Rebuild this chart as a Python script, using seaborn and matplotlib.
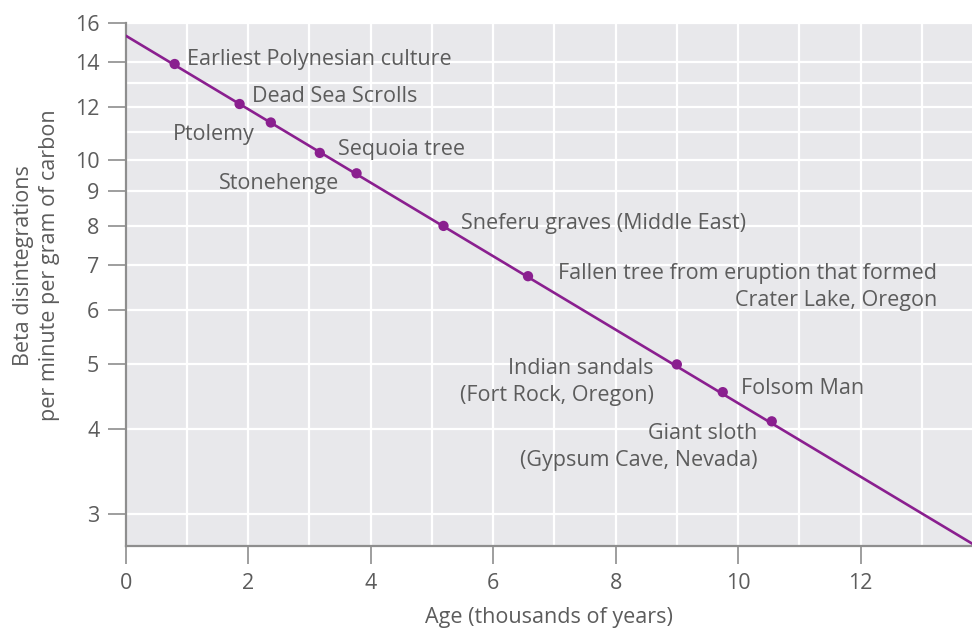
import matplotlib
matplotlib.use("Agg")
import matplotlib.pyplot as plt
from matplotlib.ticker import FixedLocator, FixedFormatter, NullFormatter
import pandas as pd
import seaborn as sns

# Dated samples: age in thousands of years, activity in disintegrations/min/g C
artifacts = [
    "Earliest Polynesian culture",
    "Dead Sea Scrolls",
    "Ptolemy",
    "Sequoia tree",
    "Stonehenge",
    "Sneferu graves (Middle East)",
    "Fallen tree from eruption that formed\nCrater Lake, Oregon",
    "Indian sandals\n(Fort Rock, Oregon)",
    "Folsom Man",
    "Giant sloth\n(Gypsum Cave, Nevada)",
]
ages = [0.80, 1.86, 2.37, 3.17, 3.77, 5.19, 6.57, 9.00, 9.75, 10.55]
rates = [13.89, 12.12, 11.38, 10.26, 9.57, 8.00, 6.74, 4.99, 4.54, 4.11]

# Decay line end points
line_age = [0.0, 13.85]
line_rate = [15.3, 2.70]

x_ticks = [0, 2, 4, 6, 8, 10, 12]
x_minor = [1, 3, 5, 7, 9, 11, 13]
y_ticks = [3, 4, 5, 6, 7, 8, 9, 10, 12, 14, 16]
y_minor = [11, 13]

# Label placement: (dx, dy) in pixels from the point, horizontal alignment
label_layout = [
    (12, 5, "left"),
    (12, 8, "left"),
    (-16, -12, "right"),
    (18, 3, "left"),
    (-17, -10, "right"),
    (17, 2, "left"),
    (409, -11, "right"),
    (-23, -18, "right"),
    (18, 4, "left"),
    (-14, -26, "right"),
]

PURPLE = "#8a1f8f"
TEXT = "#5c5c5c"
SPINE = "#8e8e8e"
FS = 15.5

sns.set_theme(style="darkgrid", rc={
    "axes.facecolor": "#e8e8eb",
    "grid.color": "white",
    "grid.linewidth": 1.6,
})
plt.rcParams["font.family"] = ["Open Sans", "DejaVu Sans"]

fig = plt.figure(figsize=(9.72, 6.29), dpi=100)
ax = fig.add_axes([0.1293, 0.1324, 0.8707, 0.8318])

line_df = pd.DataFrame({"age": line_age, "rate": line_rate})
pts_df = pd.DataFrame({"age": ages, "rate": rates, "name": artifacts})

sns.lineplot(data=line_df, x="age", y="rate", color=PURPLE, linewidth=1.9,
             ax=ax, zorder=3)
sns.scatterplot(data=pts_df, x="age", y="rate", color=PURPLE, s=55,
                edgecolor="none", ax=ax, zorder=4)

ax.set_yscale("log")
ax.set_xlim(0, 13.82)
ax.set_ylim(2.69, 16)

ax.xaxis.set_major_locator(FixedLocator(x_ticks))
ax.xaxis.set_minor_locator(FixedLocator(x_minor))
ax.yaxis.set_major_locator(FixedLocator(y_ticks))
ax.yaxis.set_minor_locator(FixedLocator(y_minor))
ax.yaxis.set_major_formatter(FixedFormatter([str(t) for t in y_ticks]))
ax.yaxis.set_minor_formatter(NullFormatter())
ax.grid(True, which="both", color="white", linewidth=1.6)

for side in ("top", "right"):
    ax.spines[side].set_visible(False)
for side in ("left", "bottom"):
    ax.spines[side].set_visible(True)
    ax.spines[side].set_color(SPINE)
    ax.spines[side].set_linewidth(1.6)

ax.tick_params(axis="both", which="major", direction="out", length=13,
               width=1.2, color=SPINE, labelsize=FS, labelcolor=TEXT,
               bottom=True, left=True)
ax.tick_params(axis="x", which="major", pad=7)
ax.tick_params(axis="y", which="major", pad=6)
ax.tick_params(axis="both", which="minor", length=0)

ax.set_xlabel("Age (thousands of years)", fontsize=FS, color=TEXT)
ax.set_ylabel("Beta disintegrations\nper minute per gram of carbon",
              fontsize=FS, color=TEXT, linespacing=1.3,
              multialignment="center")
ax.xaxis.set_label_coords(0.5, -0.118)
ax.yaxis.set_label_coords(-0.078, 0.536)

for name, x, y, (dx, dy, ha) in zip(artifacts, ages, rates, label_layout):
    ax.annotate(name, (x, y), xytext=(dx, dy), textcoords="offset pixels",
                ha=ha, va="center", multialignment=ha, fontsize=FS,
                color=TEXT, linespacing=1.38, zorder=5)

fig.savefig("out.png", dpi=100)
